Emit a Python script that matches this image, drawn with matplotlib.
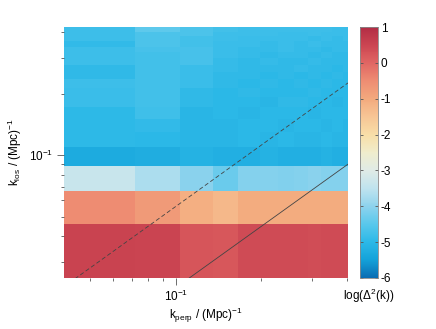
import numpy as np
import matplotlib
matplotlib.use("Agg")
import matplotlib.pyplot as plt
from matplotlib.colors import LinearSegmentedColormap
from matplotlib.ticker import FixedLocator, FixedFormatter, LogLocator, NullFormatter

plt.rcParams['font.family'] = ['Liberation Sans', 'DejaVu Sans']
plt.rcParams['mathtext.fontset'] = 'custom'
plt.rcParams['mathtext.rm'] = 'Liberation Sans'
plt.rcParams['mathtext.it'] = 'Liberation Sans'
plt.rcParams['mathtext.default'] = 'regular'

# ---- data ----
kperp_edges = 0.0405 + 0.0314 * np.arange(13)   # (Mpc)^-1
klos_edges = 0.025 + 0.021 * np.arange(20)      # (Mpc)^-1

# log(Delta^2(k)) ; row 0 = lowest k_los
row_red    = [0.55, 0.52, 0.25, 0.22, 0.4, 0.4, 0.4, 0.4, 0.38, 0.4, 0.4, 0.4]
row_orange = [-0.5, -0.75, -1.1, -1.25, -1.05, -1.05, -1.05, -1.05, -1.05, -1.05, -1.05, -1.05]
row_light  = [-3.35, -3.7, -4.05, -4.35, -4.1, -4.1, -4.12, -4.1, -4.05, -4.1, -4.1, -4.1]
row_b3  = [-5.3, -5.25, -5.15, -5.2, -5.2, -5.15, -5.2, -5.2, -5.2, -5.15, -5.2, -5.2]
row_b4  = [-4.97, -5.0, -5.05, -5.05, -5.0, -5.05, -5.0, -5.05, -5.05, -5.0, -5.05, -5.05]
row_b5  = [-4.97, -4.93, -5.05, -5.05, -5.0, -5.0, -5.05, -5.0, -5.0, -5.05, -5.0, -5.05]
row_b6  = [-4.97, -4.78, -5.05, -5.0, -5.05, -5.0, -5.0, -5.0, -5.05, -5.0, -5.0, -5.0]
row_b7  = [-4.85, -4.75, -4.95, -5.0, -5.0, -5.05, -4.95, -4.95, -5.0, -5.0, -5.05, -5.0]
row_b8  = [-4.85, -4.75, -4.95, -5.0, -4.95, -5.0, -5.0, -5.0, -4.95, -5.0, -5.0, -5.0]
row_b9  = [-4.8, -4.75, -4.85, -4.95, -5.0, -4.95, -5.0, -4.95, -5.0, -4.95, -5.0, -5.0]
row_b10 = [-4.95, -4.75, -4.85, -4.95, -4.95, -5.0, -4.95, -5.0, -4.95, -5.0, -4.95, -5.0]
row_b11 = [-4.95, -4.75, -4.85, -4.9, -4.95, -4.95, -4.95, -4.9, -4.95, -4.95, -5.0, -4.95]
row_b12 = [-4.8, -4.75, -4.7, -4.9, -4.95, -4.9, -4.95, -4.95, -4.9, -4.95, -4.95, -4.95]
row_b13 = [-4.8, -4.75, -4.7, -4.85, -4.9, -4.95, -4.9, -4.9, -4.95, -4.9, -4.95, -4.95]
row_b14 = [-4.8, -4.7, -4.7, -4.85, -4.9, -4.9, -4.85, -4.9, -4.9, -4.95, -4.9, -4.9]
row_b15 = [-4.93, -4.65, -4.75, -4.85, -4.85, -4.9, -4.85, -4.9, -4.85, -4.9, -4.9, -4.9]
row_b16 = [-4.8, -4.65, -4.75, -4.8, -4.85, -4.85, -4.85, -4.85, -4.9, -4.85, -4.9, -4.85]
row_b17 = [-4.8, -4.65, -4.65, -4.8, -4.8, -4.8, -4.85, -4.85, -4.8, -4.85, -4.85, -4.85]
row_b18 = [-4.8, -4.45, -4.65, -4.75, -4.8, -4.8, -4.8, -4.8, -4.8, -4.8, -4.85, -4.85]

values = np.array([row_red, row_orange, row_light, row_b3, row_b4, row_b5, row_b6,
                   row_b7, row_b8, row_b9, row_b10, row_b11, row_b12, row_b13,
                   row_b14, row_b15, row_b16, row_b17, row_b18])

wedge_slope_dashed = 0.56
wedge_slope_solid = 0.224

cbar_ticks = [-6, -5, -4, -3, -2, -1, 0, 1]
cbar_labels = ['-6', '-5', '-4', '-3', '-2', '-1', '0', '1']

# ---- colormap ----
anchors = [(-6.0, '#0a6db3'), (-5.5, '#14a3da'), (-5.0, '#2cb8e7'), (-4.5, '#5ac8ec'),
           (-4.0, '#8fd3ed'), (-3.5, '#bfe3ee'), (-3.0, '#e0ebe6'), (-2.5, '#f0edcc'),
           (-2.0, '#f8dea8'), (-1.5, '#f7c595'), (-1.0, '#f3aa7e'), (-0.5, '#ee8d73'),
           (0.0, '#e06663'), (0.5, '#cc4652'), (1.0, '#b22d45')]
vmin, vmax = -6, 1
cmap = LinearSegmentedColormap.from_list(
    'custom', [((v - vmin) / (vmax - vmin), c) for v, c in anchors])

# ---- figure ----
fig = plt.figure(figsize=(4.36, 3.29), dpi=100)
W, H = 436, 329
ax = fig.add_axes([64 / W, 1 - 278 / H, (348 - 64) / W, (278 - 27) / H])
cax = fig.add_axes([360 / W, 1 - 278 / H, (378 - 360) / W, (278 - 27) / H])

mesh = ax.pcolormesh(kperp_edges, klos_edges, values, cmap=cmap, vmin=vmin, vmax=vmax,
                     shading='flat', edgecolors='face', linewidth=0.0)
ax.set_xscale('log')
ax.set_yscale('log')
ax.set_xlim(0.0405, 0.403)
ax.set_ylim(0.025, 0.424)

kx = np.array([0.0405, 0.403])
ax.plot(kx, wedge_slope_dashed * kx, color='#444444', lw=0.6, ls=(0, (5, 3)))
ax.plot(kx, wedge_slope_solid * kx, color='#444444', lw=0.6, ls='-')

for s in ax.spines.values():
    s.set_visible(False)

ax.xaxis.set_major_locator(FixedLocator([0.1]))
ax.xaxis.set_major_formatter(FixedFormatter(['10$^{-1}$']))
ax.yaxis.set_major_locator(FixedLocator([0.1]))
ax.yaxis.set_major_formatter(FixedFormatter(['10$^{-1}$']))
ax.xaxis.set_minor_locator(LogLocator(base=10, subs=np.arange(2, 10), numticks=20))
ax.yaxis.set_minor_locator(LogLocator(base=10, subs=np.arange(2, 10), numticks=20))
ax.xaxis.set_minor_formatter(NullFormatter())
ax.yaxis.set_minor_formatter(NullFormatter())
ax.tick_params(which='major', direction='out', length=5, width=0.6, color='#555555',
               labelsize=8.5, pad=3)
ax.tick_params(which='minor', direction='out', length=2.5, width=0.6, color='#555555')

ax.set_xlabel('k$_{perp}$ / (Mpc)$^{-1}$', fontsize=8.5, labelpad=1)
ax.set_ylabel('k$_{los}$ / (Mpc)$^{-1}$', fontsize=8.5, labelpad=3)

cb = fig.colorbar(mesh, cax=cax)
cb.set_ticks(cbar_ticks)
cb.set_ticklabels(cbar_labels)
cb.outline.set_edgecolor('#888888')
cb.outline.set_linewidth(0.6)
cax.tick_params(direction='in', length=2, width=0.6, color='#555555', labelsize=8.5,
                left=True, right=True, pad=2)
cax.text(0.5, -0.035, 'log(Δ$^{2}$(k))', transform=cax.transAxes, ha='center', va='top',
         fontsize=8.5)

fig.savefig('out.png', dpi=100)
